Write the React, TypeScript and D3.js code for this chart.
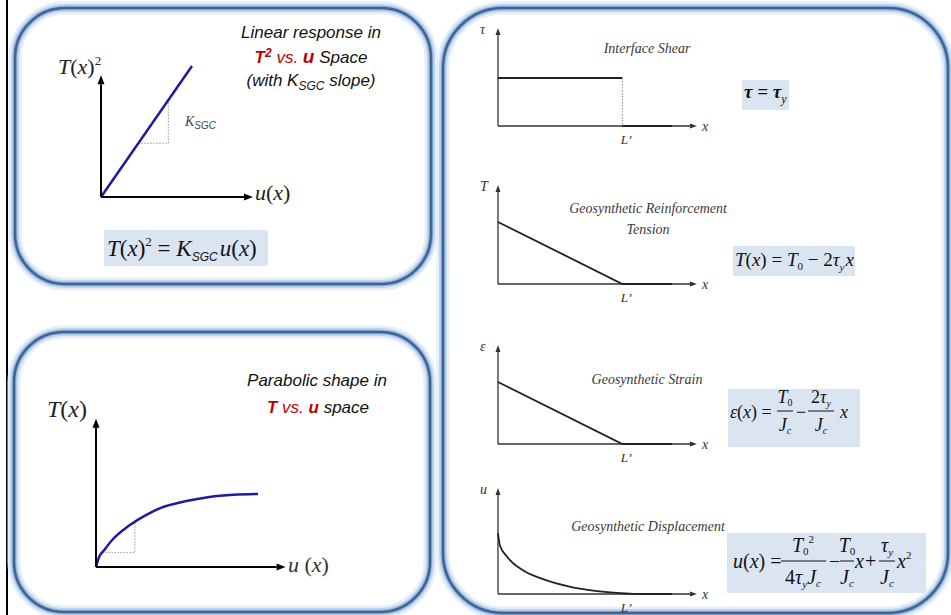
import React from "react";
import * as d3 from "d3";

// top-left: T(x)^2 against u(x), a straight line
const linU = [0, 1];
const linT2 = [0, 1];
const linStepU = [0.41, 0.74, 0.74];
const linStepT2 = [0.41, 0.41, 0.74];

// bottom-left: T(x) against u(x), parabolic
const parU = [0, 0.02, 0.05, 0.1, 0.2, 0.3, 0.4, 0.55, 0.7, 0.85, 1.0];
const parT = [0, 0.14, 0.23, 0.37, 0.56, 0.7, 0.81, 0.9, 0.96, 0.99, 1.0];
const parStepU = [0.04, 0.24, 0.24];
const parStepT = [0.2, 0.2, 0.62];

// right: distributions along x (x in units of L')
const shearX = [0, 1];
const shearY = [1, 1];
const shearTailX = [1, 1.4];
const tensionX = [0, 1, 1.4];
const tensionY = [1, 0, 0];
const strainX = [0, 1, 1.4];
const strainY = [1, 0, 0];
const dispX = [0, 0.015, 0.073, 0.2, 0.34, 0.6, 0.88, 1.15, 1.4];
const dispY = [1, 0.8, 0.61, 0.39, 0.26, 0.11, 0.03, 0, 0];

const SERIF = "'Liberation Serif', 'Times New Roman', serif";
const SANS = "'Liberation Sans', Arial, sans-serif";
const RED = "#c00000";
const BLUE = "#1c1c9c";
const BOX = "#dbe5f1";

const Arrow = ({ x1, y1, x2, y2, color = "#000", sw = 2, hl = 9, hw = 7 }: any) => {
  const a = Math.atan2(y2 - y1, x2 - x1);
  const bx = x2 - hl * Math.cos(a);
  const by = y2 - hl * Math.sin(a);
  const px = (hw / 2) * Math.sin(a);
  const py = (hw / 2) * Math.cos(a);
  return (
    <g>
      <line x1={x1} y1={y1} x2={bx} y2={by} stroke={color} strokeWidth={sw} />
      <polygon points={`${x2},${y2} ${bx + px},${by - py} ${bx - px},${by + py}`} fill={color} />
    </g>
  );
};

const Panel = ({ x, y, w, h, r }: any) => (
  <g fill="none">
    <rect x={x} y={y} width={w} height={h} rx={r} stroke="#e6eef8" strokeWidth={13} />
    <rect x={x} y={y} width={w} height={h} rx={r} stroke="#c2d4ec" strokeWidth={8} />
    <rect x={x} y={y} width={w} height={h} rx={r} stroke="#8fb0da" strokeWidth={4.5} />
    <rect x={x} y={y} width={w} height={h} rx={r} stroke="#3d6596" strokeWidth={2.5} />
  </g>
);

const pathOf = (xs: number[], ys: number[], sx: any, sy: any, curve = d3.curveLinear) =>
  d3.line<number>().x((d, i) => sx(xs[i])).y((d) => sy(d)).curve(curve)(ys) || "";

const Title = ({ x, y, lines }: any) => (
  <text x={x} textAnchor="middle" fontFamily={SERIF} fontStyle="italic" fontSize={14} fill="#3a3a3a">
    {lines.map((l: string, i: number) => (
      <tspan key={i} x={x} y={y + i * 21}>{l}</tspan>
    ))}
  </text>
);

const xR = d3.scaleLinear().domain([0, 1.6]).range([498, 697]);

const SmallChart = ({ y0, top, label, children, title }: any) => {
  const sy = (h: number) => d3.scaleLinear().domain([0, 1]).range([y0, y0 - h]);
  return (
    <g>
      <Arrow x1={xR(0)} y1={y0} x2={xR(1.6)} y2={y0} color="#333" sw={1.3} hl={7} hw={5} />
      <Arrow x1={xR(0)} y1={y0} x2={xR(0)} y2={top} color="#333" sw={1.3} hl={7} hw={5} />
      <text x={xR(0) - 18} y={top + 6} fontFamily={SERIF} fontStyle="italic" fontSize={14} fill="#333">{label}</text>
      <text x={xR(1.6) + 5} y={y0 + 5} fontFamily={SERIF} fontStyle="italic" fontSize={14} fill="#333">x</text>
      <text x={xR(1) + 4} y={y0 + 18} textAnchor="middle" fontFamily={SERIF} fontStyle="italic" fontSize={13} fill="#333">L’</text>
      {children(sy)}
      {title}
    </g>
  );
};

export default function App() {
  const x1 = d3.scaleLinear().domain([0, 1]).range([101, 192]);
  const y1 = d3.scaleLinear().domain([0, 1]).range([197, 66]);
  const x2 = d3.scaleLinear().domain([0, 1]).range([96, 258]);
  const y2 = d3.scaleLinear().domain([0, 1]).range([567, 494]);

  return (
    <svg width={951} height={615} style={{ position: "absolute", left: 0, top: 0, background: "#fff" }}>
      <line x1={7} y1={0} x2={7} y2={615} stroke="#000" strokeWidth={2} />
      <Panel x={15} y={8} w={416} h={276} r={50} />
      <Panel x={14} y={332} w={416} h={280} r={50} />
      <Panel x={443} y={8} w={505} h={605} r={60} />

      {/* top-left chart */}
      <path d={pathOf(linStepU, linStepT2, x1, y1)} fill="none" stroke="#999" strokeWidth={1} strokeDasharray="1.5,1.5" />
      <path d={pathOf(linU, linT2, x1, y1)} fill="none" stroke={BLUE} strokeWidth={2.5} />
      <Arrow x1={x1(0)} y1={y1(0)} x2={x1(1.67)} y2={y1(0)} />
      <Arrow x1={x1(0)} y1={y1(0)} x2={x1(0)} y2={y1(0.93)} />
      <text x={58} y={74} fontFamily={SERIF} fontSize={22} fill="#222">
        <tspan fontStyle="italic">T</tspan>(<tspan fontStyle="italic">x</tspan>)<tspan fontSize={13} dy={-9}>2</tspan>
      </text>
      <text x={255} y={200} fontFamily={SERIF} fontSize={22} fill="#222">
        <tspan fontStyle="italic">u</tspan>(<tspan fontStyle="italic">x</tspan>)
      </text>
      <text x={185} y={126} fontFamily={SERIF} fontSize={14} fill="#444">
        <tspan fontStyle="italic">K</tspan><tspan fontFamily={SANS} fontStyle="italic" fontSize={10} dy={3}>SGC</tspan>
      </text>
      <g fontFamily={SANS} fontStyle="italic" fontSize={17} textAnchor="middle" fill="#111">
        <text x={311} y={38}>Linear response in</text>
        <text x={311} y={63}>
          <tspan fill={RED} fontWeight="bold">T</tspan><tspan fill={RED} fontWeight="bold" fontSize={12} dy={-6}>2</tspan>
          <tspan fill={RED} dy={6}> vs. </tspan><tspan fill={RED} fontWeight="bold" fontSize={19}>u</tspan> Space
        </text>
        <text x={311} y={86}>
          (with K<tspan fontSize={12} dy={4}>SGC</tspan><tspan dy={-4}> slope)</tspan>
        </text>
      </g>
      <rect x={104} y={230} width={164} height={36} fill={BOX} />
      <text x={107} y={256} fontFamily={SERIF} fontSize={23} fill="#111">
        <tspan fontStyle="italic">T</tspan>(<tspan fontStyle="italic">x</tspan>)<tspan fontSize={13} dy={-10}>2</tspan>
        <tspan dy={10}> = </tspan><tspan fontStyle="italic">K</tspan>
        <tspan fontFamily={SANS} fontStyle="italic" fontSize={12} dy={5}>SGC</tspan>
        <tspan dy={-5} dx={2} fontStyle="italic">u</tspan>(<tspan fontStyle="italic">x</tspan>)
      </text>

      {/* bottom-left chart */}
      <path d={pathOf(parStepU, parStepT, x2, y2)} fill="none" stroke="#999" strokeWidth={1} strokeDasharray="1.5,1.5" />
      <path d={pathOf(parU, parT, x2, y2, d3.curveMonotoneX)} fill="none" stroke={BLUE} strokeWidth={2.5} />
      <Arrow x1={x2(0)} y1={y2(0)} x2={x2(1.17)} y2={y2(0)} />
      <Arrow x1={x2(0)} y1={y2(0)} x2={x2(0)} y2={y2(2.03)} />
      <text x={47} y={417} fontFamily={SERIF} fontSize={24} fill="#222">
        <tspan fontStyle="italic">T</tspan>(<tspan fontStyle="italic">x</tspan>)
      </text>
      <text x={288} y={572} fontFamily={SERIF} fontSize={22} fill="#333">
        <tspan fontStyle="italic">u</tspan> (<tspan fontStyle="italic">x</tspan>)
      </text>
      <g fontFamily={SANS} fontStyle="italic" fontSize={17} textAnchor="middle" fill="#111">
        <text x={317} y={386}>Parabolic shape in</text>
        <text x={318} y={413}>
          <tspan fill={RED} fontWeight="bold">T</tspan><tspan fill={RED}> vs. </tspan>
          <tspan fill={RED} fontWeight="bold">u</tspan> space
        </text>
      </g>

      {/* right: interface shear */}
      <SmallChart y0={126} top={28} label="τ"
        title={<Title x={647} y={53} lines={["Interface Shear"]} />}>
        {(s: any) => {
          const sy = s(48);
          return (
            <g fill="none">
              <path d={pathOf(shearX, shearY, xR, sy)} stroke="#222" strokeWidth={1.8} />
              <line x1={xR(1)} x2={xR(1)} y1={sy(1)} y2={sy(0)} stroke="#888" strokeWidth={1} strokeDasharray="1.5,1.5" />
              <path d={pathOf(shearTailX, [0, 0], xR, sy)} stroke="#222" strokeWidth={2} />
            </g>
          );
        }}
      </SmallChart>
      <rect x={742} y={80} width={47} height={30} fill={BOX} />
      <text x={744} y={98} fontFamily={SERIF} fontStyle="italic" fontWeight="bold" fontSize={19} fill="#111">
        τ = τ<tspan fontSize={12} fontWeight="normal" dy={5}>y</tspan>
      </text>

      {/* right: tension */}
      <SmallChart y0={284} top={185} label="T"
        title={<Title x={648} y={213} lines={["Geosynthetic Reinforcement", "Tension"]} />}>
        {(s: any) => <path d={pathOf(tensionX, tensionY, xR, s(62))} fill="none" stroke="#222" strokeWidth={1.8} />}
      </SmallChart>
      <rect x={733} y={246} width={122} height={30} fill={BOX} />
      <text x={735} y={266} fontFamily={SERIF} fontSize={19} fill="#111">
        <tspan fontStyle="italic">T</tspan>(<tspan fontStyle="italic">x</tspan>) = <tspan fontStyle="italic">T</tspan>
        <tspan fontSize={11} dy={4}>0</tspan><tspan dy={-4}> − 2</tspan><tspan fontStyle="italic">τ</tspan>
        <tspan fontStyle="italic" fontSize={11} dy={5}>y</tspan><tspan fontStyle="italic" dy={-5} dx={1}>x</tspan>
      </text>

      {/* right: strain */}
      <SmallChart y0={444} top={345} label="ε"
        title={<Title x={647} y={384} lines={["Geosynthetic Strain"]} />}>
        {(s: any) => <path d={pathOf(strainX, strainY, xR, s(62))} fill="none" stroke="#222" strokeWidth={1.8} />}
      </SmallChart>
      <rect x={728} y={389} width={132} height={58} fill={BOX} />
      <g fontFamily={SERIF} fontSize={18} fill="#111">
        <text x={730} y={418}><tspan fontStyle="italic">ε</tspan>(<tspan fontStyle="italic">x</tspan>) =</text>
        <text x={785} y={403} textAnchor="middle"><tspan fontStyle="italic">T</tspan><tspan fontSize={10} dy={3}>0</tspan></text>
        <line x1={777} x2={793} y1={411} y2={411} stroke="#111" strokeWidth={1} />
        <text x={785} y={431} textAnchor="middle"><tspan fontStyle="italic">J</tspan><tspan fontStyle="italic" fontSize={10} dy={3}>c</tspan></text>
        <text x={796} y={418}>−</text>
        <text x={821} y={403} textAnchor="middle">2<tspan fontStyle="italic">τ</tspan><tspan fontStyle="italic" fontSize={10} dy={4}>y</tspan></text>
        <line x1={808} x2={834} y1={411} y2={411} stroke="#111" strokeWidth={1} />
        <text x={821} y={431} textAnchor="middle"><tspan fontStyle="italic">J</tspan><tspan fontStyle="italic" fontSize={10} dy={3}>c</tspan></text>
        <text x={840} y={418} fontStyle="italic">x</text>
      </g>

      {/* right: displacement */}
      <SmallChart y0={594} top={488} label="u"
        title={<Title x={648} y={531} lines={["Geosynthetic Displacement"]} />}>
        {(s: any) => <path d={pathOf(dispX, dispY, xR, s(61), d3.curveMonotoneX)} fill="none" stroke="#222" strokeWidth={1.8} />}
      </SmallChart>
      <rect x={727} y={533} width={199} height={60} fill={BOX} />
      <g fontFamily={SERIF} fontSize={20} fill="#111">
        <text x={733} y={568}><tspan fontStyle="italic">u</tspan>(<tspan fontStyle="italic">x</tspan>) =</text>
        <text x={803} y={552} textAnchor="middle"><tspan fontStyle="italic">T</tspan><tspan fontSize={11} dy={3}>0</tspan><tspan fontSize={11} dy={-12}>2</tspan></text>
        <line x1={781} x2={826} y1={561} y2={561} stroke="#111" strokeWidth={1} />
        <text x={803} y={584} textAnchor="middle">4<tspan fontStyle="italic">τ</tspan><tspan fontStyle="italic" fontSize={11} dy={4}>y</tspan><tspan fontStyle="italic" dy={-4}>J</tspan><tspan fontStyle="italic" fontSize={11} dy={3}>c</tspan></text>
        <text x={829} y={568}>−</text>
        <text x={847} y={552} textAnchor="middle"><tspan fontStyle="italic">T</tspan><tspan fontSize={11} dy={3}>0</tspan></text>
        <line x1={840} x2={854} y1={561} y2={561} stroke="#111" strokeWidth={1} />
        <text x={847} y={584} textAnchor="middle"><tspan fontStyle="italic">J</tspan><tspan fontStyle="italic" fontSize={11} dy={3}>c</tspan></text>
        <text x={855} y={568} fontStyle="italic">x</text>
        <text x={865} y={568}>+</text>
        <text x={887} y={552} textAnchor="middle"><tspan fontStyle="italic">τ</tspan><tspan fontStyle="italic" fontSize={11} dy={4}>y</tspan></text>
        <line x1={879} x2={895} y1={561} y2={561} stroke="#111" strokeWidth={1} />
        <text x={887} y={584} textAnchor="middle"><tspan fontStyle="italic">J</tspan><tspan fontStyle="italic" fontSize={11} dy={3}>c</tspan></text>
        <text x={897} y={568}><tspan fontStyle="italic">x</tspan><tspan fontSize={11} dy={-9}>2</tspan></text>
      </g>
    </svg>
  );
}
